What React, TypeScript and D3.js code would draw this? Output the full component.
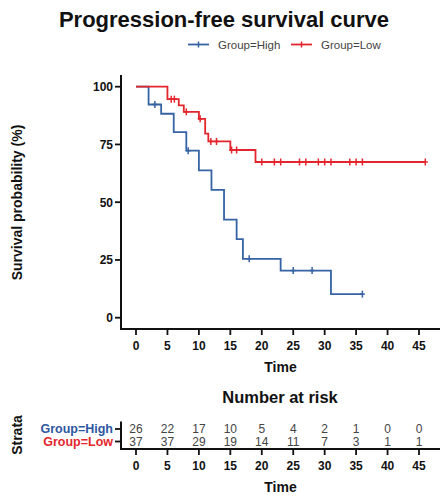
import React from "react";
import * as d3 from "d3";

// ---- data ----
const highTimes = [0, 2, 4, 6, 8, 10, 12, 14, 16, 17, 23, 31, 36];
const highSurv = [100, 92.3, 88.3, 80.3, 72.3, 63.8, 55.3, 42.5, 34.0, 25.5, 20.4, 10.2, 10.2];
const highCensor = [3, 8.3, 18, 25, 28, 36];

const lowTimes = [0, 5, 6.8, 7.6, 10, 11, 11.5, 15, 19, 46];
const lowSurv = [100, 94.6, 91.9, 89.1, 86.1, 79.7, 76.3, 72.6, 67.4, 67.4];
const lowCensor = [5.6, 6.1, 8.0, 10.2, 11.9, 12.8, 15.2, 16, 20, 22, 23, 26, 27, 29, 30, 31, 34, 35, 36, 46];

const xTicks = [0, 5, 10, 15, 20, 25, 30, 35, 40, 45];
const yTicks = [0, 25, 50, 75, 100];
const riskHigh = [26, 22, 17, 10, 5, 4, 2, 1, 0, 0];
const riskLow = [37, 37, 29, 19, 14, 11, 7, 3, 1, 1];
const groupNames = ["Group=High", "Group=Low"];

const BLUE = "#3563a3";
const RED = "#e3262d";
const FONT = "'Liberation Sans', Arial, Helvetica, sans-serif";

export default function App() {
  const W = 441, H = 498;
  const x = d3.scaleLinear().domain([0, 45]).range([136, 419]);
  const y = d3.scaleLinear().domain([0, 100]).range([317.7, 86.7]);
  const axisLeft = 121;
  const axisRight = 440;
  const axisBottom = 329;

  const line = d3
    .line<[number, number]>()
    .x((d) => x(d[0]))
    .y((d) => y(d[1]))
    .curve(d3.curveStepAfter);

  const stepVal = (times: number[], surv: number[], t: number) => {
    let v = surv[0];
    for (let i = 0; i < times.length; i++) if (times[i] <= t) v = surv[i];
    return v;
  };

  const series = [
    { times: highTimes, surv: highSurv, cens: highCensor, color: BLUE },
    { times: lowTimes, surv: lowSurv, cens: lowCensor, color: RED },
  ];

  // risk table
  const rowY = [429, 441.5];
  const tAxisY = 449;

  return (
    <svg width={W} height={H} style={{ display: "block", position: "absolute", left: 0, top: 0 }} fontFamily={FONT}>
      <rect width={W} height={H} fill="#fff" />
      {/* title */}
      <text x={224} y={26.5} textAnchor="middle" fontSize={22} fontWeight="bold" fill="#111">
        Progression-free survival curve
      </text>
      {/* legend */}
      <g>
        <line x1={188} x2={209} y1={44.5} y2={44.5} stroke={BLUE} strokeWidth={1.8} />
        <line x1={198.5} x2={198.5} y1={41.5} y2={47.5} stroke={BLUE} strokeWidth={1.5} />
        <text x={218} y={48.5} fontSize={11.5} fill="#444">{groupNames[0]}</text>
        <line x1={291} x2={312} y1={44.5} y2={44.5} stroke={RED} strokeWidth={1.8} />
        <line x1={301.5} x2={301.5} y1={41.5} y2={47.5} stroke={RED} strokeWidth={1.5} />
        <text x={321} y={48.5} fontSize={11.5} fill="#444">{groupNames[1]}</text>
      </g>

      {/* curves */}
      {series.map((s, i) => (
        <g key={i}>
          <path
            d={line(s.times.map((t, j) => [t, s.surv[j]] as [number, number])) || ""}
            fill="none"
            stroke={s.color}
            strokeWidth={1.8}
          />
          {s.cens.map((c, j) => {
            const cx = x(c);
            const cy = y(stepVal(s.times, s.surv, c));
            return (
              <g key={j}>
                <line x1={cx} x2={cx} y1={cy - 3.5} y2={cy + 3.5} stroke={s.color} strokeWidth={1.5} />
                <line x1={cx - 2.5} x2={cx + 2.5} y1={cy} y2={cy} stroke={s.color} strokeWidth={1.5} />
              </g>
            );
          })}
        </g>
      ))}

      {/* axes */}
      <line x1={axisLeft} x2={axisLeft} y1={75} y2={axisBottom + 1} stroke="#111" strokeWidth={2} />
      <line x1={axisLeft - 1} x2={axisRight} y1={axisBottom} y2={axisBottom} stroke="#111" strokeWidth={2} />
      {yTicks.map((t) => (
        <g key={t}>
          <line x1={axisLeft - 6} x2={axisLeft} y1={y(t)} y2={y(t)} stroke="#111" strokeWidth={1.8} />
          <text x={axisLeft - 8} y={y(t) + 4.3} textAnchor="end" fontSize={12} fontWeight="bold" fill="#111">
            {t}
          </text>
        </g>
      ))}
      {xTicks.map((t) => (
        <g key={t}>
          <line x1={x(t)} x2={x(t)} y1={axisBottom} y2={axisBottom + 6} stroke="#111" strokeWidth={1.8} />
          <text x={x(t)} y={349.5} textAnchor="middle" fontSize={12} fontWeight="bold" fill="#111">
            {t}
          </text>
        </g>
      ))}
      <text x={280.5} y={371.5} textAnchor="middle" fontSize={14} fontWeight="bold" fill="#111">
        Time
      </text>
      <text
        transform={`translate(21.5, 202.5) rotate(-90)`}
        textAnchor="middle"
        fontSize={14}
        fontWeight="bold"
        fill="#111"
      >
        Survival probability (%)
      </text>

      {/* risk table */}
      <text x={280} y={402.5} textAnchor="middle" fontSize={16.5} fontWeight="bold" fill="#111">
        Number at risk
      </text>
      <line x1={axisLeft} x2={axisLeft} y1={421.5} y2={tAxisY + 1} stroke="#111" strokeWidth={2} />
      <line x1={axisLeft - 1} x2={axisRight} y1={tAxisY} y2={tAxisY} stroke="#111" strokeWidth={2} />
      {[riskHigh, riskLow].map((row, r) => (
        <g key={r}>
          <line x1={axisLeft - 6} x2={axisLeft} y1={rowY[r]} y2={rowY[r]} stroke="#111" strokeWidth={1.8} />
          <text
            x={axisLeft - 8}
            y={rowY[r] + 4.3}
            textAnchor="end"
            fontSize={12.5}
            fontWeight="bold"
            fill={r === 0 ? "#2d56a0" : RED}
          >
            {groupNames[r]}
          </text>
          {row.map((v, j) => (
            <text key={j} x={x(xTicks[j])} y={rowY[r] + 4.2} textAnchor="middle" fontSize={12} fill="#444">
              {v}
            </text>
          ))}
        </g>
      ))}
      {xTicks.map((t) => (
        <g key={t}>
          <line x1={x(t)} x2={x(t)} y1={tAxisY} y2={tAxisY + 6} stroke="#111" strokeWidth={1.8} />
          <text x={x(t)} y={469.5} textAnchor="middle" fontSize={12} fontWeight="bold" fill="#111">
            {t}
          </text>
        </g>
      ))}
      <text x={280.5} y={491.5} textAnchor="middle" fontSize={14} fontWeight="bold" fill="#111">
        Time
      </text>
      <text transform={`translate(21.5, 435) rotate(-90)`} textAnchor="middle" fontSize={14} fontWeight="bold" fill="#111">
        Strata
      </text>
    </svg>
  );
}
